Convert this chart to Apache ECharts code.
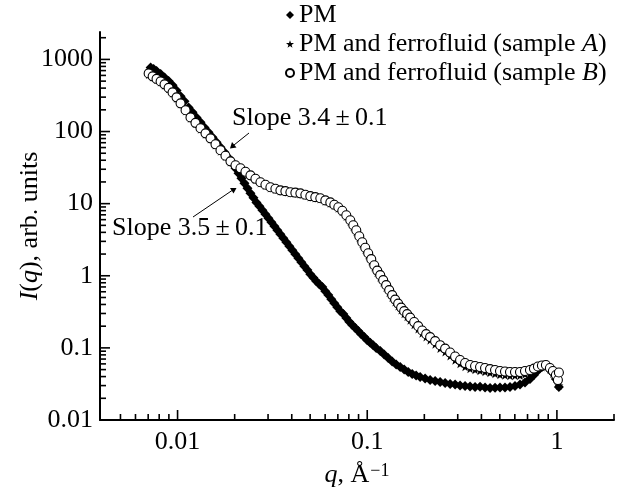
<!DOCTYPE html>
<html>
<head>
<meta charset="UTF-8">
<title>I(q) PM and ferrofluid</title>
<script src="https://cdn.jsdelivr.net/npm/echarts@6/dist/echarts.min.js"></script>
</head>
<body style="margin:0">
<div id="main" style="width:618px;height:494px;"></div>
<script>
// axis range and tick values
var X_MIN = 0.0039, X_MAX = 2;
var Y_MIN = 0.01, Y_MAX = 2400;
var xMajor = [0.01, 0.1, 1];
var xMinor = [0.005, 0.006, 0.007, 0.008, 0.009,
              0.02, 0.03, 0.04, 0.05, 0.06, 0.07, 0.08, 0.09,
              0.2, 0.3, 0.4, 0.5, 0.6, 0.7, 0.8, 0.9, 2];
var yMajor = [0.01, 0.1, 1, 10, 100, 1000];
var yMinor = [0.02, 0.03, 0.04, 0.05, 0.06, 0.07, 0.08, 0.09,
              0.2, 0.3, 0.4, 0.5, 0.6, 0.7, 0.8, 0.9,
              2, 3, 4, 5, 6, 7, 8, 9,
              20, 30, 40, 50, 60, 70, 80, 90,
              200, 300, 400, 500, 600, 700, 800, 900, 2000];

// PM
var qPM = [0.00721, 0.00748, 0.00775, 0.00814, 0.00854, 0.00897, 0.00941, 0.00988, 0.01037, 0.01088,
           0.01143, 0.01199, 0.01259, 0.01321, 0.01387, 0.01456, 0.01528, 0.01605, 0.01684, 0.01768,
           0.01856, 0.01948, 0.02020, 0.02095, 0.02172, 0.02252, 0.02336, 0.02423, 0.02512, 0.02605,
           0.02702, 0.02802, 0.02906, 0.03013, 0.03125, 0.03241, 0.03360, 0.03485, 0.03614, 0.03748,
           0.03886, 0.04031, 0.04180, 0.04335, 0.04495, 0.04662, 0.04834, 0.05012, 0.05199, 0.05391,
           0.05591, 0.05798, 0.06012, 0.06235, 0.06466, 0.06705, 0.06954, 0.07211, 0.07478, 0.07756,
           0.08042, 0.08340, 0.08649, 0.08969, 0.09301, 0.09645, 0.1000, 0.1037, 0.1075, 0.1115,
           0.1171, 0.1229, 0.1290, 0.1354, 0.1421, 0.1492, 0.1566, 0.1644, 0.1726, 0.1811,
           0.1901, 0.2020, 0.2146, 0.2280, 0.2423, 0.2574, 0.2735, 0.2906, 0.3087, 0.3280,
           0.3485, 0.3703, 0.3934, 0.4180, 0.4441, 0.4719, 0.5012, 0.5325, 0.5658, 0.6012,
           0.6388, 0.6787, 0.7211, 0.7568, 0.7943, 0.8337, 0.8750, 0.9187, 0.9526, 0.9879, 1.0245];
var iPM = [774, 738, 693, 630, 563, 504, 437, 372, 308, 262,
           216, 185, 157, 134, 114, 97.5, 83.2, 70.8, 60.4, 51.5,
           43.2, 36.3, 30.9, 26.4, 22.5, 19.2, 16.3, 13.9, 12.1, 10.4,
           9.20, 8.11, 7.13, 6.28, 5.52, 4.86, 4.28, 3.77, 3.32, 2.92,
           2.57, 2.26, 1.99, 1.75, 1.54, 1.36, 1.20, 1.05, 0.942, 0.842,
           0.765, 0.696, 0.612, 0.539, 0.474, 0.417, 0.367, 0.323, 0.294, 0.259,
           0.231, 0.207, 0.188, 0.171, 0.155, 0.141, 0.128, 0.118, 0.109, 0.0993,
           0.0903, 0.0807, 0.0722, 0.0646, 0.0587, 0.0542, 0.0500, 0.0462, 0.0434, 0.0413,
           0.0394, 0.0376, 0.0358, 0.0347, 0.0336, 0.0325, 0.0315, 0.0310, 0.0301, 0.0296,
           0.0291, 0.0286, 0.0288, 0.0282, 0.0277, 0.0279, 0.0282, 0.0283, 0.0286, 0.0296,
           0.0310, 0.0331, 0.0370, 0.0420, 0.0485, 0.0542, 0.0569, 0.0525, 0.0448, 0.0370, 0.0286];

// q grid shared by samples A and B
var qAB = [0.00704, 0.00739, 0.00775, 0.00814, 0.00854, 0.00897, 0.00941, 0.00988, 0.01037, 0.01102,
           0.01170, 0.01243, 0.01321, 0.01404, 0.01492, 0.01585, 0.01684, 0.01789, 0.01901, 0.02020,
           0.02146, 0.02280, 0.02423, 0.02574, 0.02735, 0.02906, 0.03087, 0.03280, 0.03485, 0.03703,
           0.03934, 0.04180, 0.04441, 0.04719, 0.05012, 0.05325, 0.05658, 0.06012, 0.06388, 0.06705,
           0.07039, 0.07388, 0.07756, 0.08140, 0.08442, 0.08754, 0.09078, 0.09413, 0.09761, 0.1012,
           0.1050, 0.1089, 0.1129, 0.1171, 0.1214, 0.1259, 0.1306, 0.1354, 0.1404, 0.1456,
           0.1510, 0.1566, 0.1624, 0.1684, 0.1768, 0.1856, 0.1948, 0.2045, 0.2146, 0.2280,
           0.2423, 0.2574, 0.2735, 0.2906, 0.3087, 0.3280, 0.3485, 0.3703, 0.3934, 0.4180,
           0.4441, 0.4719, 0.5012, 0.5325, 0.5658, 0.6012, 0.6388, 0.6787, 0.7211, 0.7568,
           0.7943, 0.8337, 0.8750, 0.9187, 0.9526, 0.9879, 1.0122, 1.0245];
// PM and ferrofluid, sample A
var iA = [620, 570, 525, 485, 440, 392, 340, 290, 240, 192,
          153, 129, 108, 92, 78.5, 65, 53.5, 45, 37.8, 33.2,
          30.2, 27.1, 24.2, 21.6, 19.4, 17.9, 16.5, 15.7, 15.0, 14.6,
          14.1, 13.9, 13.6, 13.0, 12.4, 12.0, 11.6, 10.8, 10.1, 9.4,
          8.65, 7.7, 6.65, 5.65, 4.8, 4.08, 3.36, 2.78, 2.32, 1.94,
          1.6, 1.32, 1.11, 0.955, 0.81, 0.69, 0.588, 0.5, 0.432, 0.38,
          0.334, 0.297, 0.27, 0.241, 0.209, 0.183, 0.159, 0.141, 0.128, 0.112,
          0.098, 0.0875, 0.077, 0.0675, 0.0602, 0.0548, 0.0512, 0.0496, 0.048, 0.0465,
          0.0452, 0.0438, 0.0425, 0.0418, 0.041, 0.0412, 0.0415, 0.043, 0.0448, 0.0475,
          0.0515, 0.0545, 0.0556, 0.0505, 0.044, 0.038, 0.033, 0.030];
// PM and ferrofluid, sample B
var iB = [640, 582, 537, 496, 451, 403, 349, 298, 246, 197,
          157, 132, 111, 94.4, 80.5, 66.5, 55.0, 46.1, 38.6, 34.0,
          30.9, 27.7, 24.7, 22.1, 19.8, 18.3, 16.9, 16.1, 15.3, 14.9,
          14.4, 14.2, 13.9, 13.3, 12.7, 12.3, 11.9, 11.1, 10.4, 9.66,
          8.91, 7.97, 6.90, 5.89, 5.02, 4.28, 3.53, 2.92, 2.45, 2.05,
          1.70, 1.40, 1.18, 1.02, 0.869, 0.741, 0.632, 0.539, 0.467, 0.411,
          0.362, 0.323, 0.294, 0.263, 0.228, 0.200, 0.174, 0.155, 0.141, 0.124,
          0.109, 0.0978, 0.0861, 0.0758, 0.0678, 0.0616, 0.0578, 0.0560, 0.0542, 0.0525,
          0.0508, 0.0493, 0.0477, 0.0470, 0.0462, 0.0462, 0.0462, 0.0477, 0.0493, 0.0516,
          0.0551, 0.0569, 0.0578, 0.0525, 0.0477, 0.0420, 0.0358, 0.0455];

function pairs(xs, ys) {
    var out = [];
    for (var k = 0; k < xs.length; k++) out.push([xs[k], ys[k]]);
    return out;
}

var FONT = 'Liberation Serif';
var starPath = 'path://M0,-10L2.35,-3.24L9.51,-3.09L3.8,1.24L5.88,8.09L0,4L-5.88,8.09L-3.8,1.24L-9.51,-3.09L-2.35,-3.24Z';

function fmt(v) { return String(+Number(v).toPrecision(2)); }

// inward axis ticks: thin rects sitting on the axis lines, placed through the scales
function tickSeries(name, values, dir, len) {
    return {
        name: name, type: 'scatter', clip: false, z: 4,
        symbol: 'rect',
        symbolSize: dir === 'x' ? [1.6, len] : [len, 1.6],
        symbolOffset: dir === 'x' ? [0, -len / 2] : [len / 2, 0],
        itemStyle: { color: '#000', opacity: 1 },
        data: values.map(function (v) { return dir === 'x' ? [v, Y_MIN] : [X_MIN, v]; })
    };
}

var myChart = echarts.init(document.getElementById('main'));

myChart.setOption({
    animation: false,
    backgroundColor: '#fff',
    textStyle: { fontFamily: FONT, color: '#000' },
    grid: { left: 100, right: 4, top: 32, bottom: 74 },
    legend: {
        orient: 'vertical',
        left: 285, top: 2, padding: 0,
        itemWidth: 8, itemHeight: 8, itemGap: 3,
        textStyle: {
            fontFamily: FONT, fontSize: 26, color: '#000', lineHeight: 26,
            rich: { i: { fontFamily: FONT, fontSize: 26, fontStyle: 'italic', color: '#000' } }
        },
        formatter: function (name) {
            if (name === 'A') return 'PM and ferrofluid (sample {i|A})';
            if (name === 'B') return 'PM and ferrofluid (sample {i|B})';
            return name;
        },
        data: ['PM', 'A', 'B']
    },
    xAxis: {
        type: 'log', min: X_MIN, max: X_MAX,
        name: '{i|q}, Å{s|−1}',
        nameLocation: 'middle', nameGap: 42, nameMoveOverlap: false,
        nameTextStyle: {
            fontFamily: FONT, fontSize: 26, color: '#000',
            rich: {
                i: { fontFamily: FONT, fontSize: 26, fontStyle: 'italic' },
                s: { fontFamily: FONT, fontSize: 18, verticalAlign: 'top', padding: [0, 0, 6, 1] }
            }
        },
        axisLine: { onZero: false, lineStyle: { color: '#000', width: 2 } },
        axisTick: { show: false },
        axisLabel: { customValues: xMajor, formatter: fmt, fontFamily: FONT, fontSize: 26, color: '#000', margin: 9 },
        splitLine: { show: false }
    },
    yAxis: {
        type: 'log', min: Y_MIN, max: Y_MAX,
        name: '{i|I}({i|q}), arb. units',
        nameLocation: 'middle', nameGap: 57, nameMoveOverlap: false,
        nameTextStyle: {
            fontFamily: FONT, fontSize: 26, color: '#000',
            rich: { i: { fontFamily: FONT, fontSize: 26, fontStyle: 'italic' } }
        },
        axisLine: { onZero: false, lineStyle: { color: '#000', width: 2 } },
        axisTick: { show: false },
        axisLabel: { customValues: yMajor, formatter: fmt, fontFamily: FONT, fontSize: 26, color: '#000', margin: 7 },
        splitLine: { show: false }
    },
    series: [
        {
            name: 'PM', type: 'scatter',
            symbol: 'diamond', symbolSize: 10,
            itemStyle: { color: '#000', opacity: 1 },
            data: pairs(qPM, iPM)
        }, {
            name: 'A', type: 'scatter',
            symbol: starPath, symbolSize: 9,
            itemStyle: { color: '#000', opacity: 1 },
            data: pairs(qAB, iA)
        }, {
            name: 'B', type: 'scatter',
            symbol: 'circle', symbolSize: 9,
            itemStyle: { color: '#fff', borderColor: '#000', borderWidth: 1.1, opacity: 1 },
            data: pairs(qAB, iB)
        },
        tickSeries('xMajorTicks', xMajor, 'x', 10),
        tickSeries('xMinorTicks', xMinor, 'x', 6),
        tickSeries('yMajorTicks', yMajor, 'y', 10),
        tickSeries('yMinorTicks', yMinor, 'y', 6)
    ],
    graphic: [
        { type: 'text', left: 232, top: 105, style: { text: 'Slope 3.4\u2009±\u20090.1', font: '26px "Liberation Serif"', fill: '#000' } },
        { type: 'text', left: 112, top: 215, style: { text: 'Slope 3.5\u2009±\u20090.1', font: '26px "Liberation Serif"', fill: '#000' } },
        { type: 'line', shape: { x1: 249, y1: 133, x2: 234, y2: 145 }, style: { stroke: '#000', lineWidth: 1 } },
        { type: 'polygon', shape: { points: [[230, 148.5], [232, 142], [236.5, 147.5]] }, style: { fill: '#000' } },
        { type: 'line', shape: { x1: 193, y1: 217, x2: 232, y2: 190.5 }, style: { stroke: '#000', lineWidth: 1 } },
        { type: 'polygon', shape: { points: [[236.5, 188], [230, 188], [233.5, 193.5]] }, style: { fill: '#000' } }
    ]
});
</script>
</body>
</html>
